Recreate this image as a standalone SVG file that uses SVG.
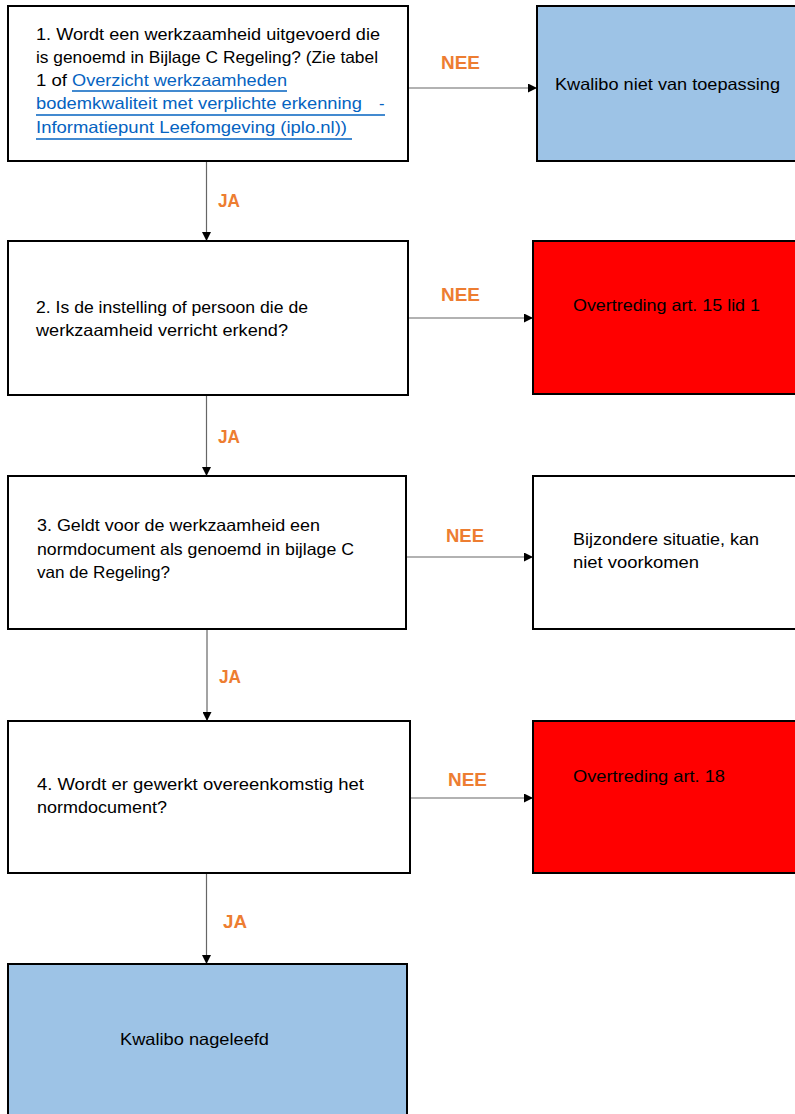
<svg xmlns="http://www.w3.org/2000/svg" width="795" height="1114" viewBox="0 0 795 1114">
<style>
.box{stroke:#000;stroke-width:2}
.w{fill:#fff}
.b{fill:#9DC3E6}
.r{fill:#FF0000}
.t{font-family:"Liberation Sans",Arial,sans-serif;font-size:16.5px;fill:#000}
.lk{fill:#0563C1}
.ul{stroke:#0563C1;stroke-width:1.4}
.lab{font-family:"Liberation Sans",Arial,sans-serif;font-size:18.5px;font-weight:bold;fill:#ED7D31}
.c{stroke:#666;stroke-width:1.2;fill:none;marker-end:url(#ah)}
</style>
<defs>
<marker id="ah" viewBox="0 0 10 10" refX="10" refY="5" markerWidth="9" markerHeight="9" markerUnits="userSpaceOnUse" orient="auto">
<path d="M0,0 L10,5 L0,10 z" fill="#000"/>
</marker>
</defs>
<rect width="795" height="1114" fill="#fff"/>

<g id="connectors">
<line class="c" x1="408" y1="88" x2="537" y2="88"/>
<line class="c" x1="206.5" y1="162" x2="206.5" y2="241"/>
<line class="c" x1="408" y1="318" x2="533" y2="318"/>
<line class="c" x1="206.5" y1="396" x2="206.5" y2="476"/>
<line class="c" x1="406" y1="557" x2="533" y2="557"/>
<line class="c" x1="207" y1="630" x2="207" y2="721"/>
<line class="c" x1="410" y1="798" x2="533" y2="798"/>
<line class="c" x1="206.5" y1="874" x2="206.5" y2="964"/>
<text class="lab" x="441" y="69" textLength="39" lengthAdjust="spacingAndGlyphs">NEE</text>
<text class="lab" x="218" y="207" textLength="22" lengthAdjust="spacingAndGlyphs">JA</text>
<text class="lab" x="441" y="301" textLength="39" lengthAdjust="spacingAndGlyphs">NEE</text>
<text class="lab" x="218" y="443" textLength="22" lengthAdjust="spacingAndGlyphs">JA</text>
<text class="lab" x="446" y="542" textLength="38" lengthAdjust="spacingAndGlyphs">NEE</text>
<text class="lab" x="219" y="683" textLength="22" lengthAdjust="spacingAndGlyphs">JA</text>
<text class="lab" x="448" y="786" textLength="39" lengthAdjust="spacingAndGlyphs">NEE</text>
<text class="lab" x="223" y="928" textLength="24" lengthAdjust="spacingAndGlyphs">JA</text>
</g>

<g id="q1">
<rect class="box w" x="8" y="6" width="400" height="155"/>
<text class="t" x="36" y="40" textLength="344" lengthAdjust="spacingAndGlyphs">1. Wordt een werkzaamheid uitgevoerd die</text>
<text class="t" x="36" y="63" textLength="342" lengthAdjust="spacingAndGlyphs">is genoemd in Bijlage C Regeling? (Zie tabel</text>
<text class="t" x="36" y="86" textLength="31" lengthAdjust="spacingAndGlyphs">1 of</text>
<text class="t lk" x="72" y="86" textLength="215" lengthAdjust="spacingAndGlyphs">Overzicht werkzaamheden</text>
<text class="t lk" x="36" y="109" textLength="326" lengthAdjust="spacingAndGlyphs">bodemkwaliteit met verplichte erkenning</text>
<text class="t lk" x="379" y="109">-</text>
<text class="t lk" x="36" y="133" textLength="311" lengthAdjust="spacingAndGlyphs">Informatiepunt Leefomgeving (iplo.nl))</text>
<line class="ul" x1="72" y1="91" x2="287" y2="91"/>
<line class="ul" x1="36" y1="115" x2="385" y2="115"/>
<line class="ul" x1="36" y1="139" x2="352" y2="139"/>
</g>

<g id="r1">
<rect class="box b" x="537" y="6" width="262" height="155"/>
<text class="t" x="555" y="90" textLength="225" lengthAdjust="spacingAndGlyphs">Kwalibo niet van toepassing</text>
</g>

<g id="q2">
<rect class="box w" x="8" y="241" width="400" height="154"/>
<text class="t" x="36" y="313" textLength="272" lengthAdjust="spacingAndGlyphs">2. Is de instelling of persoon die de</text>
<text class="t" x="36" y="336" textLength="252" lengthAdjust="spacingAndGlyphs">werkzaamheid verricht erkend?</text>
</g>

<g id="r2">
<rect class="box r" x="533" y="241" width="266" height="153"/>
<text class="t" x="573" y="311" textLength="187" lengthAdjust="spacingAndGlyphs">Overtreding art. 15 lid 1</text>
</g>

<g id="q3">
<rect class="box w" x="8" y="476" width="398" height="153"/>
<text class="t" x="37" y="531" textLength="283" lengthAdjust="spacingAndGlyphs">3. Geldt voor de werkzaamheid een</text>
<text class="t" x="37" y="555" textLength="317" lengthAdjust="spacingAndGlyphs">normdocument als genoemd in bijlage C</text>
<text class="t" x="37" y="578" textLength="133" lengthAdjust="spacingAndGlyphs">van de Regeling?</text>
</g>

<g id="r3">
<rect class="box w" x="533" y="476" width="266" height="153"/>
<text class="t" x="573" y="545" textLength="186" lengthAdjust="spacingAndGlyphs">Bijzondere situatie, kan</text>
<text class="t" x="573" y="568" textLength="126" lengthAdjust="spacingAndGlyphs">niet voorkomen</text>
</g>

<g id="q4">
<rect class="box w" x="8" y="721" width="402" height="152"/>
<text class="t" x="37" y="790" textLength="327" lengthAdjust="spacingAndGlyphs">4. Wordt er gewerkt overeenkomstig het</text>
<text class="t" x="37" y="813" textLength="130" lengthAdjust="spacingAndGlyphs">normdocument?</text>
</g>

<g id="r4">
<rect class="box r" x="533" y="721" width="266" height="152"/>
<text class="t" x="573" y="782" textLength="152" lengthAdjust="spacingAndGlyphs">Overtreding art. 18</text>
</g>

<g id="r5">
<rect class="box b" x="8" y="964" width="399" height="160"/>
<text class="t" x="120" y="1045" textLength="149" lengthAdjust="spacingAndGlyphs">Kwalibo nageleefd</text>
</g>
</svg>
